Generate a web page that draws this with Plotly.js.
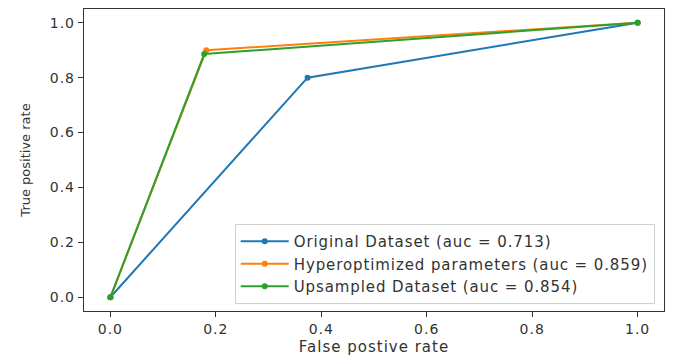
<!DOCTYPE html>
<html>
<head>
<meta charset="utf-8">
<script src="https://cdn.plot.ly/plotly-3.0.1.min.js"></script>
<style>
html,body{margin:0;padding:0;background:#fff;}
#chart{width:679px;height:356px;}
.legendtext{letter-spacing:0.9px;}
.xtitle{letter-spacing:1px;}
.xtick text, .ytick text{letter-spacing:1px;}
</style>
</head>
<body>
<div id="chart"></div>
<script>
const seriesNames = ["Original Dataset (auc = 0.713)", "Hyperoptimized parameters (auc = 0.859)", "Upsampled Dataset (auc = 0.854)"];
const fprOriginal = [0, 0.374, 1];
const tprOriginal = [0, 0.8, 1];
const fprHyper = [0, 0.182, 1];
const tprHyper = [0, 0.9, 1];
const fprUpsampled = [0, 0.178, 1];
const tprUpsampled = [0, 0.886, 1];
const colors = ["#1f77b4", "#ff7f0e", "#2ca02c"];
const tickVals = [0, 0.2, 0.4, 0.6, 0.8, 1.0];
const tickText = ["0.0", "0.2", "0.4", "0.6", "0.8", "1.0"];

const xs = [fprOriginal, fprHyper, fprUpsampled];
const ys = [tprOriginal, tprHyper, tprUpsampled];
const traces = xs.map((x, i) => ({
  x: x, y: ys[i], name: seriesNames[i], type: "scatter", mode: "lines+markers",
  line: {color: colors[i], width: 2}, marker: {color: colors[i], size: 6}
}));

const font = {family: "DejaVu Sans, sans-serif", size: 14, color: "#222"};
const axisCommon = {
  range: [-0.05, 1.05], tickvals: tickVals, ticktext: tickText,
  showgrid: false, zeroline: false, showline: true, mirror: true,
  linecolor: "#333", linewidth: 1.2, ticks: "outside", ticklen: 5, tickcolor: "#333",
  tickfont: {family: "DejaVu Sans, sans-serif", size: 14, color: "#333"}
};
const layout = {
  width: 679, height: 356,
  margin: {l: 84, r: 15, t: 9, b: 45},
  paper_bgcolor: "#fff", plot_bgcolor: "#fff",
  font: font,
  showlegend: true,
  xaxis: Object.assign({}, axisCommon, {title: {text: "False postive rate", standoff: 5, font: {size: 15, color: "#333"}}}),
  yaxis: Object.assign({}, axisCommon, {title: {text: "True positive rate", standoff: 16, font: {size: 13, color: "#333"}}}),
  legend: {
    x: 0.984, y: 0.023, xanchor: "right", yanchor: "bottom",
    bgcolor: "rgba(255,255,255,0.8)", bordercolor: "#d0d0d0", borderwidth: 1,
    font: {family: "DejaVu Sans, sans-serif", size: 15, color: "#333"},
    tracegroupgap: 0, itemwidth: 48
  }
};
Plotly.newPlot("chart", traces, layout, {displayModeBar: false, staticPlot: true});
</script>
</body>
</html>
